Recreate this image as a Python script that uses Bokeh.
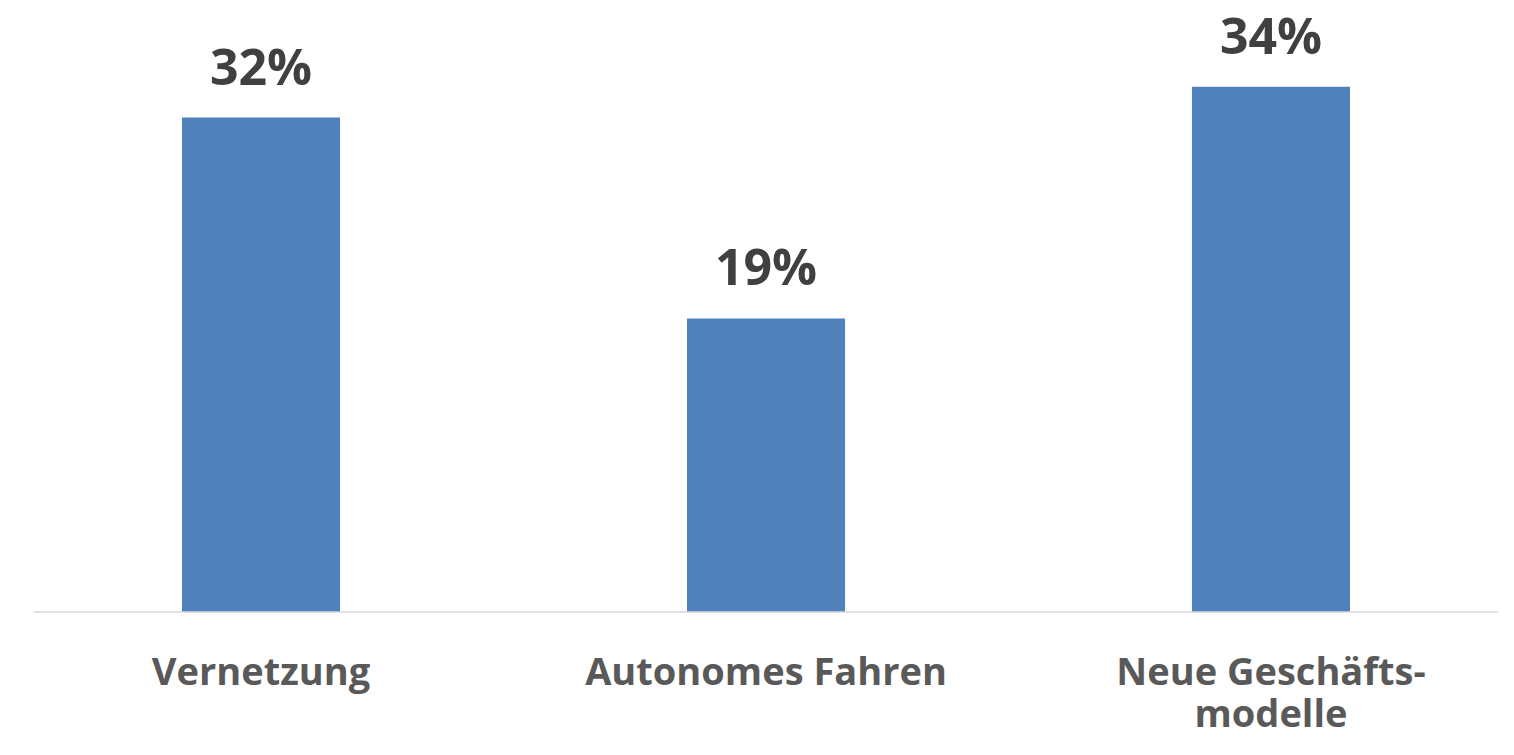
from bokeh.plotting import figure
from bokeh.models import ColumnDataSource, FactorRange, Range1d, Span
from bokeh.core.properties import value
from bokeh.embed import file_html
from bokeh.resources import INLINE

categories = ["Vernetzung", "Autonomes Fahren", "Neue Geschäftsmodelle"]
tick_labels = ["Vernetzung", "Autonomes Fahren", "Neue Geschäfts-\nmodelle"]
shares = [32, 19, 34]
share_labels = ["32%", "19%", "34%"]

FONT = "Open Sans"

src = ColumnDataSource(dict(cat=categories, val=shares, lab=share_labels,
                            tick=tick_labels, base=[0] * len(categories)))

p = figure(
    x_range=FactorRange(*categories, range_padding=-0.033),
    y_range=Range1d(-8.25, 39.58),
    width=1498, height=739,
    output_backend="svg", toolbar_location=None,
    min_border_left=33, min_border_right=0, min_border_top=0, min_border_bottom=0,
)
p.outline_line_color = None
p.background_fill_color = "white"
p.border_fill_color = "white"
p.xgrid.visible = False
p.ygrid.visible = False
p.yaxis.visible = False
p.xaxis.visible = False

# baseline (category axis line)
p.add_layout(Span(location=0, dimension="width", line_color="#D9D9D9", line_width=1.5))

p.vbar(x="cat", top="val", width=0.313, source=src, fill_color="#4F81BD", line_color=None)

# value labels above bars
p.text(x="cat", y="val", text="lab", source=src, y_offset=-52,
       text_align="center", text_baseline="alphabetic",
       text_font=value(FONT), text_font_style="bold", text_font_size="50px",
       text_color="#404040")

# category labels below the axis line
p.text(x="cat", y="base", text="tick", source=src, y_offset=32,
       text_align="center", text_baseline="top", text_line_height=0.8,
       text_font=value(FONT), text_font_style="bold", text_font_size="38px",
       text_color="#595959")

open("out.html", "w").write(file_html(p, INLINE))
